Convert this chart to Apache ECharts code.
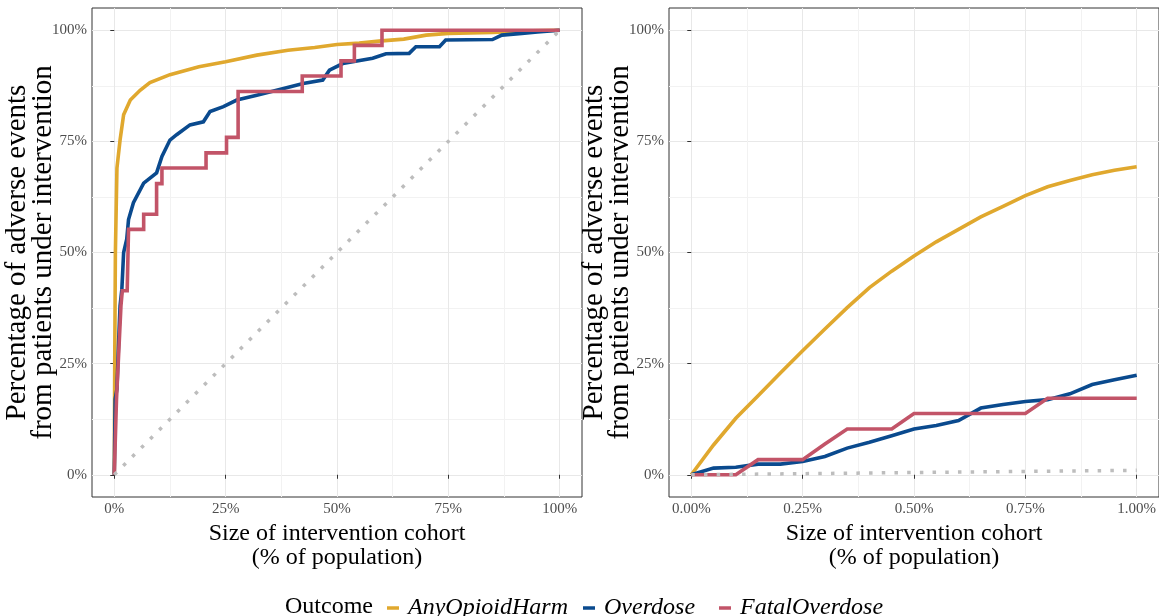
<!DOCTYPE html>
<html>
<head>
<meta charset="utf-8">
<script src="https://cdn.jsdelivr.net/npm/echarts@6/dist/echarts.min.js"></script>
<style>
  html, body { margin: 0; padding: 0; background: #fff; }
  #chart { width: 1159px; height: 616px; }
</style>
</head>
<body>
<div id="chart"></div>
<script>
// full population, [% of population, % of events]
var fullAnyHarm = [[0,0],[0.1,25],[0.25,50],[0.6,69],[1.3,75.3],[2.1,81],[3.6,84.3],[5.8,86.5],[8,88.2],
    [12.5,90],[19,91.8],[25,92.9],[32,94.4],[39,95.5],[45,96.1],[50,96.8],[55,97.1],[60,97.6],[65,98],
    [70,98.9],[75,99.3],[80,99.4],[85,99.5],[91,99.8],[100,100]];
var fullOverdose = [[0,0],[0.2,17],[0.6,19.3],[1,30.5],[1.3,38],[1.7,41.7],[2.1,50],[2.8,53],[3.2,57.4],
    [4.3,61.2],[6.6,65.6],[9.5,67.9],[10.7,71.6],[12.5,75.3],[14,76.5],[17,78.7],[20,79.4],[21.5,81.7],
    [24.5,82.8],[27.5,84.3],[32,85.4],[38,86.9],[42.4,88],[46.8,88.8],[48.3,91],[51.3,92.5],[58,93.7],
    [61,94.7],[66.2,94.8],[67.7,96.3],[73,96.3],[74.4,97.8],[84.9,97.9],[87,98.9],[91.5,99.3],[95,99.6],[100,100]];
var fullFatal = [[0,0],[0.5,17],[0.9,17],[1.5,38],[1.8,38],[1.8,41.4],[2.9,41.4],[3.2,55.2],[6.6,55.2],
    [6.6,58.6],[9.5,58.6],[9.5,65.5],[10.7,65.5],[10.7,69],[20.6,69],[20.6,72.4],[25.2,72.4],[25.2,75.9],
    [27.8,75.9],[27.8,86.2],[42.2,86.2],[42.2,89.7],[50.9,89.7],[50.9,93.1],[53.9,93.1],[53.9,96.6],
    [60.1,96.6],[60.1,100],[100,100]];
var fullRandom = [[0,0],[100,100]];

// first 1% of population
var zoomX = [0,0.05,0.1,0.15,0.2,0.25,0.3,0.35,0.4,0.45,0.5,0.55,0.6,0.65,0.7,0.75,0.8,0.85,0.9,0.95,1];
var zoomAnyHarm = [0,6.7,12.7,17.8,22.9,27.9,32.8,37.6,42.1,45.8,49.2,52.4,55.2,58,60.4,62.8,64.8,66.2,67.5,68.5,69.3];
var zoomOverdose = [0,1.5,1.7,2.4,2.4,3.0,4.1,6.0,7.3,8.8,10.3,11.1,12.2,15.0,15.8,16.5,16.9,18.2,20.3,21.4,22.4];
var zoomFatal = [0,0,0,3.4,3.4,3.4,6.9,10.3,10.3,10.3,13.8,13.8,13.8,13.8,13.8,13.8,17.2,17.2,17.2,17.2,17.2];
var zoomRandom = [[0,0],[1,1]];

var pctTicks = [0,25,50,75,100];
var pctMinor = [12.5,37.5,62.5,87.5];
var zoomTicks = [0,0.25,0.5,0.75,1];
var zoomMinor = [0.125,0.375,0.625,0.875];

var outcomes = ['AnyOpioidHarm','Overdose','FatalOverdose'];
var colors = ['#E0A82E','#0A4A8E','#C25468'];
var legendLeft = [382, 578, 714];

var serif = 'Liberation Serif';
var xTitle = 'Size of intervention cohort\n(% of population)';
var yTitle = 'Percentage of adverse events\nfrom patients under intervention';

function pairs(xs, ys) {
    return xs.map(function (x, i) { return [x, ys[i]]; });
}

function majorAxis(grid, min, max, ticks, fmt, isY) {
    var ax = {
        type: 'value', gridIndex: grid, min: min, max: max,
        axisLine: {show: false},
        axisTick: {show: true, length: 4, customValues: ticks, lineStyle: {color: '#333', width: 1}},
        axisLabel: {customValues: ticks, formatter: fmt, color: '#4D4D4D', fontFamily: serif, fontSize: 15, margin: 5},
        splitLine: {show: true, lineStyle: {color: '#E8E8E8', width: 1}},
        nameLocation: 'middle',
        nameTextStyle: {fontFamily: serif, color: '#000'}
    };
    if (isY) {
        ax.name = yTitle;
        ax.nameGap = 36;
        ax.nameMoveOverlap = false;
        ax.nameTextStyle.fontSize = 29;
        ax.nameTextStyle.lineHeight = 26;
    } else {
        ax.name = xTitle;
        ax.nameGap = 22;
        ax.nameTextStyle.fontSize = 24;
        ax.nameTextStyle.lineHeight = 24;
    }
    return ax;
}

function minorAxis(grid, min, max, ticks) {
    return {
        type: 'value', gridIndex: grid, min: min, max: max,
        axisLine: {show: false},
        axisTick: {show: false, customValues: ticks},
        axisLabel: {show: false},
        splitLine: {show: true, lineStyle: {color: '#F2F2F2', width: 1}}
    };
}

var pctFmt = function (v) { return v + '%'; };
var zoomFmt = function (v) { return v.toFixed(2) + '%'; };

function lineSeries(name, data, xi, color) {
    return {
        name: name, type: 'line', data: data, xAxisIndex: xi, yAxisIndex: xi,
        showSymbol: false, color: color, silent: true,
        lineStyle: {width: 3.6, color: color, cap: 'butt', join: 'miter'}
    };
}

function randomSeries(data, xi) {
    return {
        type: 'line', data: data, xAxisIndex: xi, yAxisIndex: xi, showSymbol: false, z: 5,
        lineStyle: {width: 3.5, color: '#BDBDBD', type: [3.5, 9.2], cap: 'butt'}
    };
}

var legends = outcomes.map(function (name, i) {
    return {
        data: [name],
        left: legendLeft[i], top: 591,
        icon: 'rect', itemWidth: 12, itemHeight: 3.5,
        textStyle: {fontFamily: serif, fontStyle: 'italic', fontSize: 24, color: '#000', padding: [0, 0, 0, 4]}
    };
});

var myChart = echarts.init(document.getElementById('chart'), null, {renderer: 'canvas'});
myChart.setOption({
    animation: false,
    grid: [
        {left: 92, top: 8, width: 490, height: 489, show: true, borderColor: '#333', borderWidth: 1,
            containLabel: false, outerBoundsMode: 'none'},
        {left: 669, top: 8, width: 490, height: 489, show: true, borderColor: '#333', borderWidth: 1,
            containLabel: false, outerBoundsMode: 'none'}
    ],
    xAxis: [
        majorAxis(0, -5, 105, pctTicks, pctFmt, false),
        minorAxis(0, -5, 105, pctMinor),
        majorAxis(1, -0.05, 1.05, zoomTicks, zoomFmt, false),
        minorAxis(1, -0.05, 1.05, zoomMinor)
    ],
    yAxis: [
        majorAxis(0, -5, 105, pctTicks, pctFmt, true),
        minorAxis(0, -5, 105, pctMinor),
        majorAxis(1, -5, 105, pctTicks, pctFmt, true),
        minorAxis(1, -5, 105, pctMinor)
    ],
    legend: legends,
    graphic: [{
        type: 'text', left: 285, top: 595,
        style: {text: 'Outcome', fontFamily: serif, fontSize: 24, fill: '#000'}
    }],
    series: [
        lineSeries(outcomes[0], fullAnyHarm, 0, colors[0]),
        lineSeries(outcomes[1], fullOverdose, 0, colors[1]),
        lineSeries(outcomes[2], fullFatal, 0, colors[2]),
        randomSeries(fullRandom, 0),
        lineSeries(outcomes[0], pairs(zoomX, zoomAnyHarm), 2, colors[0]),
        lineSeries(outcomes[1], pairs(zoomX, zoomOverdose), 2, colors[1]),
        lineSeries(outcomes[2], pairs(zoomX, zoomFatal), 2, colors[2]),
        randomSeries(zoomRandom, 2)
    ]
});
</script>
</body>
</html>
